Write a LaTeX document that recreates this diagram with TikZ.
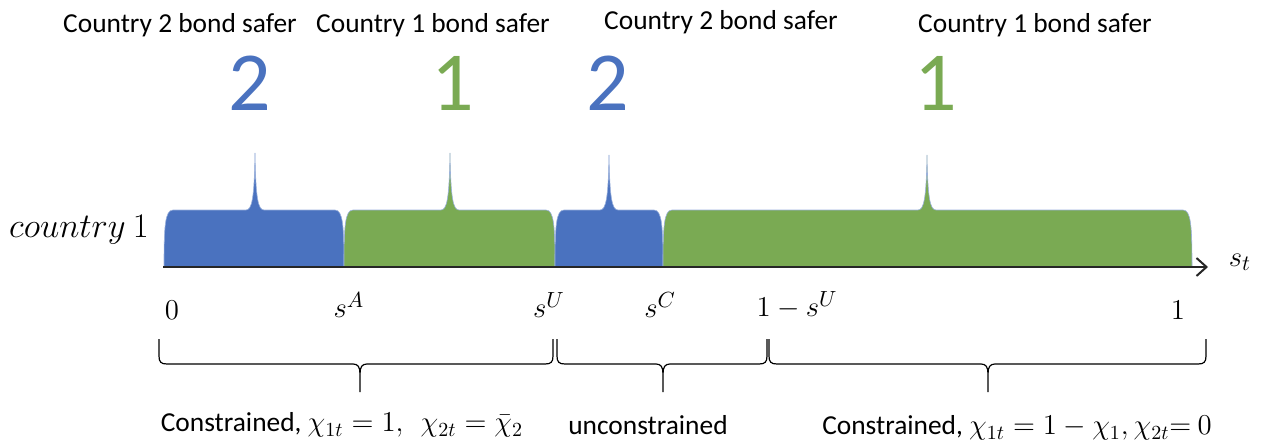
\documentclass[tikz,border=0pt]{standalone}
\usepackage{fontspec}
\setmainfont{Carlito}
\usetikzlibrary{arrows.meta}
\definecolor{cblue}{HTML}{4A72BF}
\definecolor{cgreen}{HTML}{7AAA53}
\newcommand\mkblock[5]{%
  \fill[#5, draw=cblue!55!white, line width=0.3pt] (#1,267) .. controls (#1,226) and (#1+1,210) .. (#1+9,210)
    -- (#3-9,210) .. controls (#3-3,210) and (#3-0.7,198) .. (#3,#4)
    .. controls (#3+0.7,198) and (#3+3,210) .. (#3+9,210)
    -- (#2-9,210) .. controls (#2-1,210) and (#2,226) .. (#2,267) -- cycle;}
\newcommand\mkbrace[4]{%
  \draw[bracestyle] (#1,339) coordinate (#4a) -- (#1,356) .. controls (#1,362) and (#1+2,364) .. (#1+8,364)
    -- (#3-7,364) .. controls (#3-2,364) and (#3,367) .. (#3,374) -- (#3,392) coordinate (#4m)
    (#3,374) .. controls (#3,367) and (#3+2,364) .. (#3+7,364)
    -- (#2-8,364) .. controls (#2-2,364) and (#2,362) .. (#2,356) -- (#2,339) coordinate (#4b);}
\begin{document}
\begin{tikzpicture}[x=0.5pt,y=-0.5pt,
  toplabel/.style={font=\fontsize{13.7}{16}\selectfont, inner sep=0pt},
  bigdigit/.style={font=\fontsize{42}{46}\selectfont, inner sep=0pt},
  axlabel/.style={font=\fontsize{15}{18}\selectfont, inner sep=0pt},
  bottomlabel/.style={font=\fontsize{13.7}{16}\selectfont, inner sep=0pt},
  bracestyle/.style={line width=0.6pt, black}]
\useasboundingbox (0,0) rectangle (1266,445);

% top labels
\node[toplabel] (t1) at (180,25) {Country 2 bond safer};
\node[toplabel] (t2) at (433,25) {Country 1 bond safer};
\node[toplabel] (t3) at (721,22) {Country 2 bond safer};
\node[toplabel] (t4) at (1035,25) {Country 1 bond safer};

% big digits
\node[bigdigit, text=cblue] (d1) at (250,83) {2};
\node[bigdigit, text=cgreen] (d2) at (453,83) {1};
\node[bigdigit, text=cblue] (d3) at (608,83) {2};
\node[bigdigit, text=cgreen] (d4) at (936,83) {1};

% blocks
\mkblock{164}{344}{255}{153}{cblue}
\mkblock{344}{555}{450}{153}{cgreen}
\mkblock{555}{663}{609}{155}{cblue}
\mkblock{663}{1192}{927}{155}{cgreen}

% axis
\coordinate (ax0) at (163,267);
\coordinate (ax1) at (1208,267);
\draw[line width=1pt, black!85, -{Straight Barb[length=5pt,width=9pt,line width=1pt]}] (ax0) -- (ax1);

\node[font=\fontsize{16}{19}\selectfont, inner sep=0pt] (c1) at (79,230) {$country\ 1$};
\node[axlabel] (st) at (1240,262) {$s_t$};

% axis labels
\node[axlabel] (l0) at (172,310) {$0$};
\node[axlabel] (lA) at (349,305) {$s^A$};
\node[axlabel] (lU) at (549,305) {$s^U$};
\node[axlabel] (lC) at (660,305) {$s^C$};
\node[axlabel] (l1U) at (797,305) {$1-s^U$};
\node[axlabel] (l1) at (1178,310) {$1$};

% braces
\mkbrace{159}{553}{360}{b1}
\mkbrace{557}{767}{663}{b2}
\mkbrace{769}{1206}{988}{b3}

% bottom labels
\node[bottomlabel] (c1b) at (342,425) {Constrained, $\chi_{1t}=1,\ \ \chi_{2t}=\bar{\chi}_2$};
\node[bottomlabel] (c2b) at (648,425) {unconstrained};
\node[bottomlabel] (c3b) at (1017,428) {Constrained, $\chi_{1t}=1-\chi_1, \chi_{2t}{=}\ 0$};
\end{tikzpicture}
\end{document}
